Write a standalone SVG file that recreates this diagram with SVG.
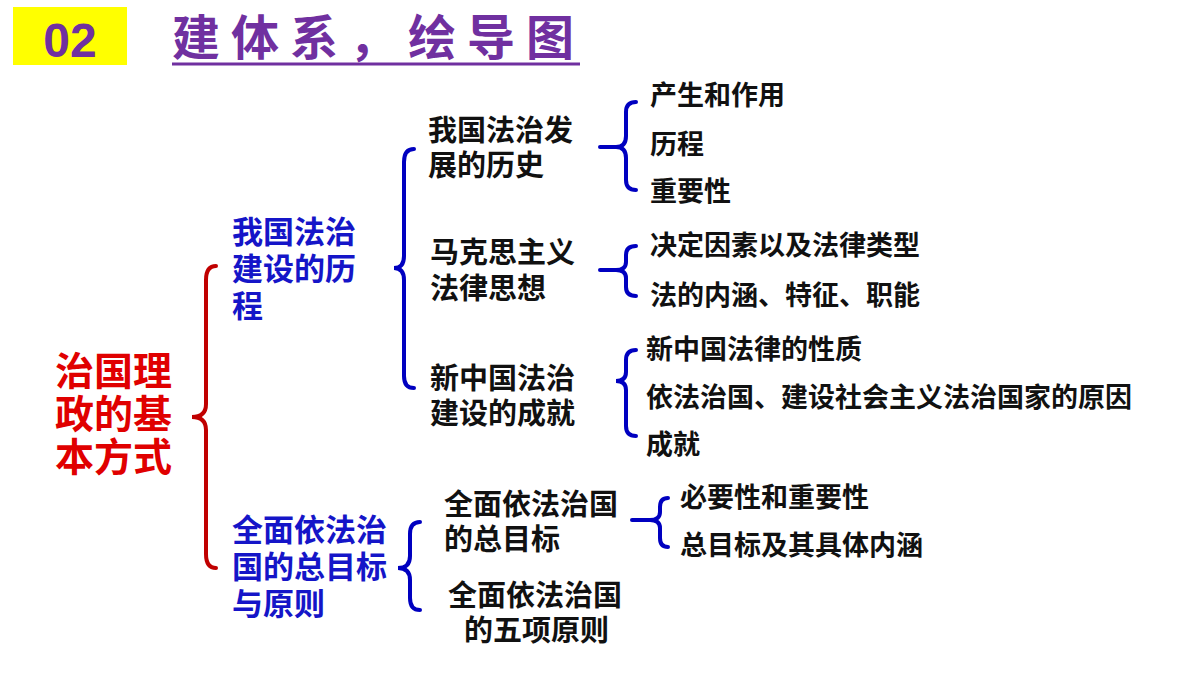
<svg xmlns="http://www.w3.org/2000/svg" width="1200" height="675" viewBox="0 0 1200 675">
<style>
text{font-family:"Noto Sans CJK SC","Liberation Sans",sans-serif;font-weight:bold}
.k{font-size:27px;fill:#111}
.t{font-size:29px;fill:#111}
.b{font-size:31px;fill:#1515c8}
.r{font-size:39px;fill:#e00000}
.bl{fill:none;stroke:#0000c0;stroke-width:4;stroke-linecap:round}
.rd{fill:none;stroke:#c00000;stroke-width:4;stroke-linecap:round}
</style>
<rect width="1200" height="675" fill="#fff"/>
<g id="header">
<rect x="13" y="7" width="114" height="58" fill="#ffff00"/>
<text x="70" y="57" text-anchor="middle" style="font-family:'Liberation Sans',sans-serif;font-size:48px;fill:#7030a0">02</text>
<text x="172" y="55" style="font-size:48px;fill:#7030a0;letter-spacing:11px">建体系，绘导图</text>
<line x1="172" y1="64" x2="580" y2="64" stroke="#7030a0" stroke-width="3"/>
</g>
<g id="root"><text class="r" x="55" y="385">治国理</text><text class="r" x="55" y="428">政的基</text><text class="r" x="55" y="471">本方式</text></g>
<g id="n1"><text class="b" x="232" y="243">我国法治</text><text class="b" x="232" y="280">建设的历</text><text class="b" x="232" y="317">程</text></g>
<g id="n2"><text class="b" x="232" y="541">全面依法治</text><text class="b" x="232" y="578">国的总目标</text><text class="b" x="232" y="615">与原则</text></g>
<g id="n11"><text class="t" x="428" y="141">我国法治发</text><text class="t" x="428" y="176">展的历史</text></g>
<g id="n12"><text class="t" x="430" y="263">马克思主义</text><text class="t" x="430" y="299">法律思想</text></g>
<g id="n13"><text class="t" x="430" y="389">新中国法治</text><text class="t" x="430" y="424">建设的成就</text></g>
<g id="n21"><text class="t" x="444" y="515">全面依法治国</text><text class="t" x="444" y="550">的总目标</text></g>
<g id="n22"><text class="t" x="448" y="606">全面依法治国</text><text class="t" x="464" y="641">的五项原则</text></g>
<g id="leaves">
<text class="k" x="650" y="105">产生和作用</text>
<text class="k" x="650" y="154">历程</text>
<text class="k" x="650" y="201">重要性</text>
<text class="k" x="650" y="255">决定因素以及法律类型</text>
<text class="k" x="650" y="305">法的内涵、特征、职能</text>
<text class="k" x="646" y="359">新中国法律的性质</text>
<text class="k" x="646" y="407">依法治国、建设社会主义法治国家的原因</text>
<text class="k" x="646" y="454">成就</text>
<text class="k" x="680" y="507">必要性和重要性</text>
<text class="k" x="680" y="555">总目标及其具体内涵</text>
</g>
<g id="connectors">
<path class="rd" d="M216,266 Q206,266 206,280 L206,404 Q206,417 192,417 Q206,417 206,430 L206,554 Q206,568 216,568"/>
<path class="bl" d="M414,149 Q404,149 404,162 L404,256 Q404,268 394,268 Q404,268 404,280 L404,376 Q404,388 414,388"/>
<path class="bl" d="M420,522 Q410,522 410,534 L410,556 Q410,568 398,568 Q410,568 410,580 L410,598 Q410,610 420,610"/>
<path class="bl" d="M636,102 Q626,102 626,112 L626,136 Q626,147 616,147 Q626,147 626,158 L626,180 Q626,190 636,190 M600,147 L616,147"/>
<path class="bl" d="M636,246 Q626,246 626,255 L626,262 Q626,270 616,270 Q626,270 626,278 L626,287 Q626,296 636,296 M600,270 L616,270"/>
<path class="bl" d="M636,350 Q626,350 626,360 L626,372 Q626,381 616,381 Q626,381 626,390 L626,426 Q626,436 636,436"/>
<path class="bl" d="M668,498 Q660,498 660,507 L660,512 Q660,520 650,520 Q660,520 660,528 L660,538 Q660,547 668,547 M632,520 L650,520"/>
</g>
</svg>
